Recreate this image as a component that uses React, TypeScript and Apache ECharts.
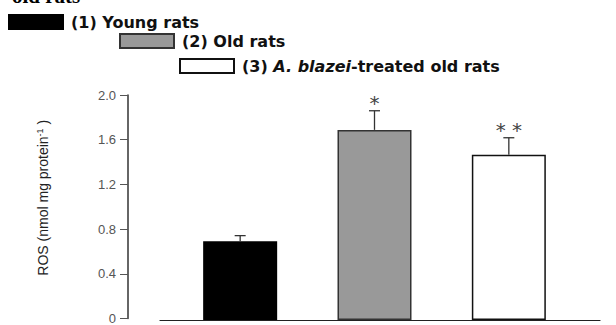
import React, { useEffect, useRef } from "react";
import * as echarts from "echarts";

const categories = ["(1)", "(2)", "(3)"];
const seriesNames = ["(1) Young rats", "(2) Old rats", "(3) A. blazei-treated old rats"];
const meanValues = [0.7, 1.69, 1.47];
const errorTops = [0.75, 1.86, 1.62];
const significance = ["", "*", "* *"];
const yTicks = [0, 0.4, 0.8, 1.2, 1.6, 2.0];

export default function App() {
  const ref = useRef<HTMLDivElement>(null);
  useEffect(() => {
    document.body.style.margin = "0";
    if (!ref.current) return;
    const chart = echarts.init(ref.current, undefined, { renderer: "svg" });
    const fills = ["#000000", "#999999", "#ffffff"];
    const borders = ["#000000", "#333333", "#111111"];
    const gridTop = 95;
    const gridBottom = 5;
    const barSeries = seriesNames.map((name, i) => ({
      name,
      type: "bar",
      stack: "all",
      xAxisIndex: 2,
      yAxisIndex: 2,
      barWidth: 74,
      data: categories.map((_, j) => (j === i ? meanValues[i] : "-")),
      itemStyle: { color: fills[i], borderColor: borders[i], borderWidth: 1.5 },
    }));
    const legendText = {
      fontFamily: "DejaVu Sans, Verdana, sans-serif",
      fontWeight: "bold" as const,
      fontSize: 16,
      color: "#111",
      padding: [0, 0, 0, 3],
      rich: {
        i: { fontFamily: "DejaVu Sans, Verdana, sans-serif", fontWeight: "bold", fontStyle: "italic", fontSize: 16, color: "#111" },
      },
    };
    const legendPos = [
      { left: 8, top: 14 },
      { left: 119, top: 33 },
      { left: 179, top: 58 },
    ];
    chart.setOption({
      animation: false,
      graphic: [
        {
          type: "text",
          x: 12,
          y: 6,
          style: { text: "old rats", font: "bold 21px 'Liberation Serif', serif", fill: "#000", verticalAlign: "bottom" },
        },
      ],
      legend: seriesNames.map((name, i) => ({
        ...legendPos[i],
        data: [name],
        itemWidth: 54,
        itemHeight: 14,
        icon: "rect",
        selectedMode: false,
        padding: 0,
        textStyle: legendText,
        formatter: (n: string) => (n.indexOf("A. blazei") >= 0 ? "(3) {i|A. blazei}-treated old rats" : n),
      })),
      grid: [
        { left: 128, right: 16, top: gridTop, bottom: gridBottom },
        { left: 160, right: 16, top: gridTop, bottom: gridBottom },
        { left: 173, right: 40, top: gridTop, bottom: gridBottom },
      ],
      xAxis: [
        { gridIndex: 0, type: "value", show: false },
        {
          gridIndex: 1,
          type: "value",
          axisLine: { show: true, lineStyle: { color: "#222", width: 1.2 } },
          axisTick: { show: false },
          axisLabel: { show: false },
          splitLine: { show: false },
        },
        { gridIndex: 2, type: "category", data: categories, show: false },
      ],
      yAxis: [
        {
          gridIndex: 0,
          type: "value",
          min: 0,
          max: 2,
          interval: 0.4,
          name: "ROS (nmol mg protein{sup|-1} )",
          nameLocation: "middle",
          nameRotate: 90,
          nameGap: 77,
          nameTextStyle: {
            fontFamily: "'Liberation Sans Narrow', 'Arial Narrow', sans-serif",
            fontSize: 14,
            color: "#222",
            padding: [0, 0, 0, 18],
            rich: {
              sup: {
                fontFamily: "'Liberation Sans Narrow', 'Arial Narrow', sans-serif",
                fontSize: 9,
                color: "#222",
                verticalAlign: "top",
                padding: [0, 0, 7, 0],
              },
            },
          },
          axisLine: { show: true, lineStyle: { color: "#333", width: 1.5 } },
          axisTick: { show: true, length: 8, lineStyle: { color: "#555" } },
          axisLabel: {
            margin: 12,
            fontFamily: "'Liberation Sans', Arial, sans-serif",
            fontSize: 13,
            color: "#555",
            formatter: (v: number) => {
              const t = yTicks.find((x) => Math.abs(x - v) < 1e-9);
              if (t === undefined) return "";
              return t === 0 ? "0" : t.toFixed(1);
            },
          },
          splitLine: { show: false },
        },
        { gridIndex: 1, type: "value", min: 0, max: 2, show: false },
        { gridIndex: 2, type: "value", min: 0, max: 2, interval: 0.4, show: false },
      ],
      series: [
        ...barSeries,
        {
          type: "custom",
          xAxisIndex: 2,
          yAxisIndex: 2,
          data: categories.map((_, i) => [i, meanValues[i], errorTops[i]]),
          renderItem: (params: any, api: any) => {
            const i = api.value(0);
            const base = api.coord([i, api.value(1)]);
            const top = api.coord([i, api.value(2)]);
            const capW = 5.5;
            const children: any[] = [
              {
                type: "line",
                shape: { x1: base[0], y1: base[1], x2: top[0], y2: top[1] },
                style: { stroke: "#333", lineWidth: 1.3 },
              },
              {
                type: "line",
                shape: { x1: top[0] - capW, y1: top[1], x2: top[0] + capW, y2: top[1] },
                style: { stroke: "#333", lineWidth: 1.3 },
              },
            ];
            const s = significance[i];
            if (s) {
              children.push({
                type: "text",
                x: top[0],
                y: top[1] + 2,
                style: {
                  text: s,
                  textAlign: "center",
                  textVerticalAlign: "bottom",
                  font: "20px 'DejaVu Sans', sans-serif",
                  fill: "#444",
                },
              });
            }
            return { type: "group", children };
          },
          z: 5,
        },
      ],
    });
    return () => chart.dispose();
  }, []);
  return <div ref={ref} style={{ width: 616, height: 325 }} />;
}
